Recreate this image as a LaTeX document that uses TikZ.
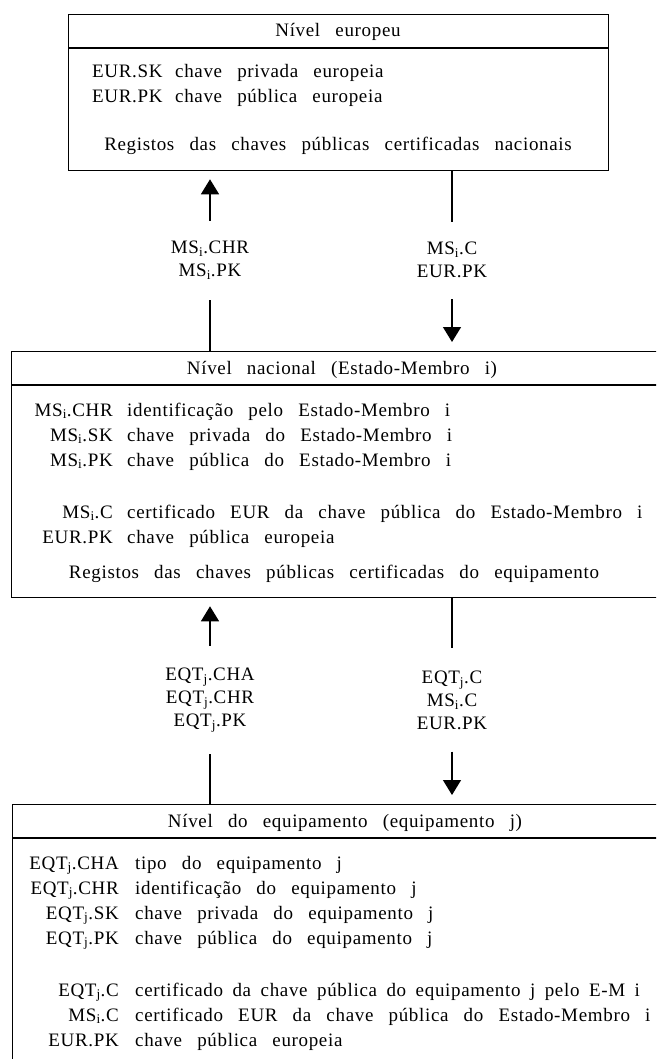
\documentclass[tikz,border=0pt]{standalone}
\usepackage{fontspec}
\setmainfont{Liberation Serif}[LetterSpace=3.5,WordSpace=2.8]
\usetikzlibrary{arrows.meta}
\newcommand{\msi}{MS\textsubscript{i}}
\newcommand{\eqtj}{EQT\textsubscript{j}}

\begin{document}
\begin{tikzpicture}[x=1pt,y=-1pt,
  every node/.style={font=\fontsize{19}{23}\selectfont, inner sep=0pt},
  level/.style={draw, line width=1.3pt, anchor=north west},
  key/.style={anchor=base east},
  txt/.style={anchor=base west},
  head/.style={anchor=base},
  lbl/.style={align=center},
  link/.style={line width=1.3pt},
  arr/.style={line width=1.3pt, -{Triangle[width=18pt,length=15pt]}}]
\useasboundingbox (0,0) rectangle (656,1059);
\clip (0,0) rectangle (656,1059);

\node[level, minimum width=540pt, minimum height=156pt] (eur) at (68,14) {};
\draw[link] (eur.west |- 0,48) -- (eur.east |- 0,48);
\node[head] (eurH) at (338,37) {Nível europeu};
\node[txt] (eurSK) at (92,78) {EUR.SK};
\node[txt] (eurSKd) at (175,78) {chave privada europeia};
\node[txt] (eurPK) at (92,103) {EUR.PK};
\node[txt] (eurPKd) at (175,103) {chave pública europeia};
\node[head] (eurReg) at (338,151) {Registos das chaves públicas certificadas nacionais};

\node[level, minimum width=700pt, minimum height=246pt] (nat) at (11,351) {};
\draw[link] (nat.west |- 0,385) -- (nat.east |- 0,385);
\node[head] (natH) at (342,374) {Nível nacional (Estado-Membro i)};
\node[key] (natCHR) at (113,416) {\msi.CHR};
\node[txt] (natCHRd) at (127,416) {identificação pelo Estado-Membro i};
\node[key] (natSK) at (113,441) {\msi.SK};
\node[txt] (natSKd) at (127,441) {chave privada do Estado-Membro i};
\node[key] (natPK) at (113,466) {\msi.PK};
\node[txt] (natPKd) at (127,466) {chave pública do Estado-Membro i};
\node[key] (natC) at (113,518) {\msi.C};
\node[txt] (natCd) at (127,518) {certificado EUR da chave pública do Estado-Membro i};
\node[key] (natEUR) at (113,543) {EUR.PK};
\node[txt] (natEURd) at (127,543) {chave pública europeia};
\node[head] (natReg) at (334,578) {Registos das chaves públicas certificadas do equipamento};

\node[level, minimum width=700pt, minimum height=300pt] (eqt) at (12,804) {};
\draw[link] (eqt.west |- 0,838) -- (eqt.east |- 0,838);
\node[head] (eqtH) at (345,827) {Nível do equipamento (equipamento j)};
\node[key] (eqtCHA) at (119,869) {\eqtj.CHA};
\node[txt] (eqtCHAd) at (135,869) {tipo do equipamento j};
\node[key] (eqtCHR) at (119,894) {\eqtj.CHR};
\node[txt] (eqtCHRd) at (135,894) {identificação do equipamento j};
\node[key] (eqtSK) at (119,919) {\eqtj.SK};
\node[txt] (eqtSKd) at (135,919) {chave privada do equipamento j};
\node[key] (eqtPK) at (119,944) {\eqtj.PK};
\node[txt] (eqtPKd) at (135,944) {chave pública do equipamento j};
\node[key] (eqtC) at (119,996) {\eqtj.C};
\node[txt] (eqtCd) at (135,996) {\spaceskip=9.5pt\relax certificado da chave pública do equipamento j pelo E-M i};
\node[key] (eqtMS) at (119,1021) {\msi.C};
\node[txt] (eqtMSd) at (135,1021) {certificado EUR da chave pública do Estado-Membro i};
\node[key] (eqtEUR) at (119,1046) {EUR.PK};
\node[txt] (eqtEURd) at (135,1046) {chave pública europeia};

\node[lbl] (upA) at (210,260) {\msi.CHR\\\msi.PK};
\node[lbl] (dnA) at (452,260) {\msi.C\\EUR.PK};
\node[lbl] (upB) at (210,700) {\eqtj.CHA\\\eqtj.CHR\\\eqtj.PK};
\node[lbl] (dnB) at (452,700) {\eqtj.C\\\msi.C\\EUR.PK};

\draw[arr, shorten <=20pt, shorten >=8pt] (upA.north) -- (upA.north |- eur.south);
\draw[link, shorten >=21pt] (upA.south |- nat.north) -- (upA.south);
\draw[link, shorten >=20pt] (dnA.north |- eur.south) -- (dnA.north);
\draw[arr, shorten <=21pt, shorten >=9pt] (dnA.south) -- (dnA.south |- nat.north);

\draw[arr, shorten <=22pt, shorten >=8pt] (upB.north) -- (upB.north |- nat.south);
\draw[link, shorten >=22pt] (upB.south |- eqt.north) -- (upB.south);
\draw[link, shorten >=22pt] (dnB.north |- nat.south) -- (dnB.north);
\draw[arr, shorten <=22pt, shorten >=9pt] (dnB.south) -- (dnB.south |- eqt.north);
\end{tikzpicture}
\end{document}
